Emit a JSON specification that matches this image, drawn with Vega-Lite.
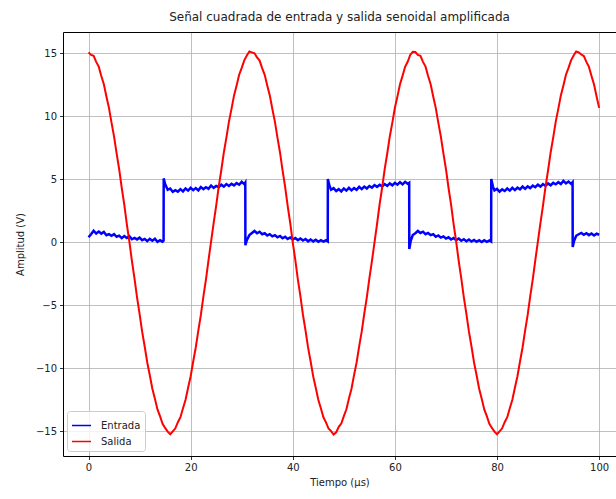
{
"$schema": "https://vega.github.io/schema/vega-lite/v6.json",
"width": 553,
"height": 424,
"autosize": {"type": "none"},
"padding": {"left": 63, "top": 32, "right": 0, "bottom": 43},
"background": "white",
"config": {"view": {"stroke": null}, "font": "DejaVu Sans"},
"title": {"text": "Señal cuadrada de entrada y salida senoidal amplificada", "font": "DejaVu Sans", "fontSize": 12, "fontWeight": "normal", "color": "#222222", "anchor": "middle", "offset": 8},
"data": {"values": [
{"senal":"Entrada","t":0,"v":0.38},{"senal":"Entrada","t":0.5,"v":0.62},{"senal":"Entrada","t":1,"v":0.9},{"senal":"Entrada","t":1.5,"v":0.68},{"senal":"Entrada","t":2,"v":0.83},{"senal":"Entrada","t":2.5,"v":0.67},{"senal":"Entrada","t":3,"v":0.8},{"senal":"Entrada","t":3.5,"v":0.54},{"senal":"Entrada","t":4,"v":0.63},{"senal":"Entrada","t":4.5,"v":0.5},{"senal":"Entrada","t":5,"v":0.63},{"senal":"Entrada","t":5.5,"v":0.42},{"senal":"Entrada","t":6,"v":0.51},{"senal":"Entrada","t":6.5,"v":0.31},{"senal":"Entrada","t":7,"v":0.48},{"senal":"Entrada","t":7.5,"v":0.32},{"senal":"Entrada","t":8,"v":0.47},{"senal":"Entrada","t":8.5,"v":0.22},{"senal":"Entrada","t":9,"v":0.33},{"senal":"Entrada","t":9.5,"v":0.21},{"senal":"Entrada","t":10,"v":0.35},{"senal":"Entrada","t":10.5,"v":0.15},{"senal":"Entrada","t":11,"v":0.25},{"senal":"Entrada","t":11.5,"v":0.07},{"senal":"Entrada","t":12,"v":0.25},{"senal":"Entrada","t":12.5,"v":0.1},{"senal":"Entrada","t":13,"v":0.26},{"senal":"Entrada","t":13.5,"v":0.02},{"senal":"Entrada","t":14,"v":0.14},{"senal":"Entrada","t":14.5,"v":0.03},{"senal":"Entrada","t":14.7,"v":0.12},
{"senal":"Entrada","t":14.72,"v":5.05},{"senal":"Entrada","t":15,"v":4.6},{"senal":"Entrada","t":15.5,"v":4.15},{"senal":"Entrada","t":16,"v":4.25},{"senal":"Entrada","t":16.5,"v":3.98},{"senal":"Entrada","t":17,"v":4.12},{"senal":"Entrada","t":17.5,"v":4.0},{"senal":"Entrada","t":18,"v":4.2},{"senal":"Entrada","t":18.5,"v":4.02},{"senal":"Entrada","t":19,"v":4.25},{"senal":"Entrada","t":19.5,"v":4.08},{"senal":"Entrada","t":20,"v":4.3},{"senal":"Entrada","t":20.5,"v":4.12},{"senal":"Entrada","t":21,"v":4.28},{"senal":"Entrada","t":21.5,"v":4.1},{"senal":"Entrada","t":22,"v":4.36},{"senal":"Entrada","t":22.5,"v":4.2},{"senal":"Entrada","t":23,"v":4.35},{"senal":"Entrada","t":23.5,"v":4.22},{"senal":"Entrada","t":24,"v":4.48},{"senal":"Entrada","t":24.5,"v":4.3},{"senal":"Entrada","t":25,"v":4.45},{"senal":"Entrada","t":25.5,"v":4.35},{"senal":"Entrada","t":26,"v":4.55},{"senal":"Entrada","t":26.5,"v":4.4},{"senal":"Entrada","t":27,"v":4.6},{"senal":"Entrada","t":27.5,"v":4.45},{"senal":"Entrada","t":28,"v":4.62},{"senal":"Entrada","t":28.5,"v":4.5},{"senal":"Entrada","t":29,"v":4.68},{"senal":"Entrada","t":29.5,"v":4.55},{"senal":"Entrada","t":30,"v":4.78},{"senal":"Entrada","t":30.5,"v":4.6},{"senal":"Entrada","t":30.7,"v":4.72},
{"senal":"Entrada","t":30.72,"v":-0.25},{"senal":"Entrada","t":31,"v":0.15},{"senal":"Entrada","t":31.5,"v":0.55},{"senal":"Entrada","t":32,"v":0.72},{"senal":"Entrada","t":32.5,"v":0.88},{"senal":"Entrada","t":33,"v":0.7},{"senal":"Entrada","t":33.5,"v":0.82},{"senal":"Entrada","t":34,"v":0.62},{"senal":"Entrada","t":34.5,"v":0.7},{"senal":"Entrada","t":35,"v":0.52},{"senal":"Entrada","t":35.5,"v":0.62},{"senal":"Entrada","t":36,"v":0.45},{"senal":"Entrada","t":36.5,"v":0.55},{"senal":"Entrada","t":37,"v":0.38},{"senal":"Entrada","t":37.5,"v":0.48},{"senal":"Entrada","t":38,"v":0.3},{"senal":"Entrada","t":38.5,"v":0.42},{"senal":"Entrada","t":39,"v":0.25},{"senal":"Entrada","t":39.5,"v":0.36},{"senal":"Entrada","t":40,"v":0.2},{"senal":"Entrada","t":40.5,"v":0.32},{"senal":"Entrada","t":41,"v":0.15},{"senal":"Entrada","t":41.5,"v":0.28},{"senal":"Entrada","t":42,"v":0.12},{"senal":"Entrada","t":42.5,"v":0.24},{"senal":"Entrada","t":43,"v":0.06},{"senal":"Entrada","t":43.5,"v":0.2},{"senal":"Entrada","t":44,"v":0.05},{"senal":"Entrada","t":44.5,"v":0.18},{"senal":"Entrada","t":45,"v":0.02},{"senal":"Entrada","t":45.5,"v":0.15},{"senal":"Entrada","t":46,"v":0.03},{"senal":"Entrada","t":46.5,"v":0.14},{"senal":"Entrada","t":46.85,"v":0.05},
{"senal":"Entrada","t":46.87,"v":5.0},{"senal":"Entrada","t":47.2,"v":4.45},{"senal":"Entrada","t":47.5,"v":4.15},{"senal":"Entrada","t":48,"v":4.28},{"senal":"Entrada","t":48.5,"v":4.05},{"senal":"Entrada","t":49,"v":4.2},{"senal":"Entrada","t":49.5,"v":4.02},{"senal":"Entrada","t":50,"v":4.25},{"senal":"Entrada","t":50.5,"v":4.08},{"senal":"Entrada","t":51,"v":4.3},{"senal":"Entrada","t":51.5,"v":4.1},{"senal":"Entrada","t":52,"v":4.28},{"senal":"Entrada","t":52.5,"v":4.15},{"senal":"Entrada","t":53,"v":4.38},{"senal":"Entrada","t":53.5,"v":4.2},{"senal":"Entrada","t":54,"v":4.4},{"senal":"Entrada","t":54.5,"v":4.25},{"senal":"Entrada","t":55,"v":4.45},{"senal":"Entrada","t":55.5,"v":4.32},{"senal":"Entrada","t":56,"v":4.52},{"senal":"Entrada","t":56.5,"v":4.38},{"senal":"Entrada","t":57,"v":4.55},{"senal":"Entrada","t":57.5,"v":4.42},{"senal":"Entrada","t":58,"v":4.6},{"senal":"Entrada","t":58.5,"v":4.45},{"senal":"Entrada","t":59,"v":4.65},{"senal":"Entrada","t":59.5,"v":4.5},{"senal":"Entrada","t":60,"v":4.7},{"senal":"Entrada","t":60.5,"v":4.55},{"senal":"Entrada","t":61,"v":4.75},{"senal":"Entrada","t":61.5,"v":4.58},{"senal":"Entrada","t":62,"v":4.78},{"senal":"Entrada","t":62.5,"v":4.62},{"senal":"Entrada","t":62.8,"v":4.7},
{"senal":"Entrada","t":62.82,"v":-0.55},{"senal":"Entrada","t":63.1,"v":0.1},{"senal":"Entrada","t":63.5,"v":0.55},{"senal":"Entrada","t":64,"v":0.7},{"senal":"Entrada","t":64.5,"v":0.88},{"senal":"Entrada","t":65,"v":0.72},{"senal":"Entrada","t":65.5,"v":0.82},{"senal":"Entrada","t":66,"v":0.62},{"senal":"Entrada","t":66.5,"v":0.72},{"senal":"Entrada","t":67,"v":0.55},{"senal":"Entrada","t":67.5,"v":0.62},{"senal":"Entrada","t":68,"v":0.42},{"senal":"Entrada","t":68.5,"v":0.52},{"senal":"Entrada","t":69,"v":0.35},{"senal":"Entrada","t":69.5,"v":0.45},{"senal":"Entrada","t":70,"v":0.28},{"senal":"Entrada","t":70.5,"v":0.38},{"senal":"Entrada","t":71,"v":0.2},{"senal":"Entrada","t":71.5,"v":0.32},{"senal":"Entrada","t":72,"v":0.15},{"senal":"Entrada","t":72.5,"v":0.28},{"senal":"Entrada","t":73,"v":0.1},{"senal":"Entrada","t":73.5,"v":0.22},{"senal":"Entrada","t":74,"v":0.06},{"senal":"Entrada","t":74.5,"v":0.2},{"senal":"Entrada","t":75,"v":0.04},{"senal":"Entrada","t":75.5,"v":0.17},{"senal":"Entrada","t":76,"v":0.02},{"senal":"Entrada","t":76.5,"v":0.15},{"senal":"Entrada","t":77,"v":0.0},{"senal":"Entrada","t":77.5,"v":0.14},{"senal":"Entrada","t":78,"v":0.02},{"senal":"Entrada","t":78.5,"v":0.12},{"senal":"Entrada","t":78.85,"v":0.04},
{"senal":"Entrada","t":78.87,"v":5.0},{"senal":"Entrada","t":79.2,"v":4.4},{"senal":"Entrada","t":79.5,"v":4.1},{"senal":"Entrada","t":80,"v":4.22},{"senal":"Entrada","t":80.5,"v":4.0},{"senal":"Entrada","t":81,"v":4.18},{"senal":"Entrada","t":81.5,"v":4.05},{"senal":"Entrada","t":82,"v":4.25},{"senal":"Entrada","t":82.5,"v":4.08},{"senal":"Entrada","t":83,"v":4.3},{"senal":"Entrada","t":83.5,"v":4.12},{"senal":"Entrada","t":84,"v":4.32},{"senal":"Entrada","t":84.5,"v":4.18},{"senal":"Entrada","t":85,"v":4.4},{"senal":"Entrada","t":85.5,"v":4.22},{"senal":"Entrada","t":86,"v":4.42},{"senal":"Entrada","t":86.5,"v":4.28},{"senal":"Entrada","t":87,"v":4.48},{"senal":"Entrada","t":87.5,"v":4.35},{"senal":"Entrada","t":88,"v":4.55},{"senal":"Entrada","t":88.5,"v":4.4},{"senal":"Entrada","t":89,"v":4.6},{"senal":"Entrada","t":89.5,"v":4.45},{"senal":"Entrada","t":90,"v":4.65},{"senal":"Entrada","t":90.5,"v":4.5},{"senal":"Entrada","t":91,"v":4.7},{"senal":"Entrada","t":91.5,"v":4.58},{"senal":"Entrada","t":92,"v":4.75},{"senal":"Entrada","t":92.5,"v":4.6},{"senal":"Entrada","t":93,"v":4.85},{"senal":"Entrada","t":93.5,"v":4.65},{"senal":"Entrada","t":94,"v":4.8},{"senal":"Entrada","t":94.5,"v":4.62},{"senal":"Entrada","t":94.8,"v":4.75},
{"senal":"Entrada","t":94.82,"v":-0.4},{"senal":"Entrada","t":95.1,"v":0.1},{"senal":"Entrada","t":95.5,"v":0.5},{"senal":"Entrada","t":96,"v":0.62},{"senal":"Entrada","t":96.5,"v":0.72},{"senal":"Entrada","t":97,"v":0.58},{"senal":"Entrada","t":97.5,"v":0.7},{"senal":"Entrada","t":98,"v":0.55},{"senal":"Entrada","t":98.5,"v":0.68},{"senal":"Entrada","t":99,"v":0.52},{"senal":"Entrada","t":99.5,"v":0.66},{"senal":"Entrada","t":100,"v":0.58},
{"senal":"Salida","t":0,"v":15.05},{"senal":"Salida","t":0.5,"v":14.85},{"senal":"Salida","t":1,"v":14.78},{"senal":"Salida","t":1.5,"v":14.3},{"senal":"Salida","t":2,"v":13.92},{"senal":"Salida","t":2.5,"v":13.18},{"senal":"Salida","t":3,"v":12.52},{"senal":"Salida","t":3.5,"v":11.55},{"senal":"Salida","t":4,"v":10.65},{"senal":"Salida","t":4.5,"v":9.48},{"senal":"Salida","t":5,"v":8.37},{"senal":"Salida","t":5.5,"v":7.03},{"senal":"Salida","t":6,"v":5.78},{"senal":"Salida","t":6.5,"v":4.31},{"senal":"Salida","t":7,"v":2.97},{"senal":"Salida","t":7.5,"v":1.43},{"senal":"Salida","t":8,"v":0.04},{"senal":"Salida","t":8.5,"v":-1.51},{"senal":"Salida","t":9,"v":-2.89},{"senal":"Salida","t":9.5,"v":-4.39},{"senal":"Salida","t":10,"v":-5.7},{"senal":"Salida","t":10.5,"v":-7.11},{"senal":"Salida","t":11,"v":-8.29},{"senal":"Salida","t":11.5,"v":-9.56},{"senal":"Salida","t":12,"v":-10.57},{"senal":"Salida","t":12.5,"v":-11.64},{"senal":"Salida","t":13,"v":-12.43},{"senal":"Salida","t":13.5,"v":-13.28},{"senal":"Salida","t":14,"v":-13.82},{"senal":"Salida","t":14.5,"v":-14.42},{"senal":"Salida","t":15,"v":-14.75},{"senal":"Salida","t":15.5,"v":-15.05},{"senal":"Salida","t":16,"v":-15.25},{"senal":"Salida","t":16.5,"v":-15.02},{"senal":"Salida","t":17,"v":-14.78},{"senal":"Salida","t":17.5,"v":-14.3},{"senal":"Salida","t":18,"v":-13.9},{"senal":"Salida","t":18.5,"v":-13.19},{"senal":"Salida","t":19,"v":-12.51},{"senal":"Salida","t":19.5,"v":-11.56},{"senal":"Salida","t":20,"v":-10.65},{"senal":"Salida","t":20.5,"v":-9.48},{"senal":"Salida","t":21,"v":-8.37},{"senal":"Salida","t":21.5,"v":-7.03},{"senal":"Salida","t":22,"v":-5.78},{"senal":"Salida","t":22.5,"v":-4.31},{"senal":"Salida","t":23,"v":-2.97},{"senal":"Salida","t":23.5,"v":-1.43},{"senal":"Salida","t":24,"v":0.04},{"senal":"Salida","t":24.5,"v":1.51},{"senal":"Salida","t":25,"v":2.89},{"senal":"Salida","t":25.5,"v":4.39},{"senal":"Salida","t":26,"v":5.7},{"senal":"Salida","t":26.5,"v":7.11},{"senal":"Salida","t":27,"v":8.29},{"senal":"Salida","t":27.5,"v":9.56},{"senal":"Salida","t":28,"v":10.57},{"senal":"Salida","t":28.5,"v":11.64},{"senal":"Salida","t":29,"v":12.43},{"senal":"Salida","t":29.5,"v":13.28},{"senal":"Salida","t":30,"v":13.82},{"senal":"Salida","t":30.5,"v":14.42},{"senal":"Salida","t":31,"v":14.8},{"senal":"Salida","t":31.5,"v":15.12},
{"senal":"Salida","t":32,"v":15.05},{"senal":"Salida","t":32.5,"v":14.98},{"senal":"Salida","t":33,"v":14.66},{"senal":"Salida","t":33.5,"v":14.4},{"senal":"Salida","t":34,"v":13.81},{"senal":"Salida","t":34.5,"v":13.27},{"senal":"Salida","t":35,"v":12.42},{"senal":"Salida","t":35.5,"v":11.64},{"senal":"Salida","t":36,"v":10.56},{"senal":"Salida","t":36.5,"v":9.56},{"senal":"Salida","t":37,"v":8.28},{"senal":"Salida","t":37.5,"v":7.11},{"senal":"Salida","t":38,"v":5.69},{"senal":"Salida","t":38.5,"v":4.39},{"senal":"Salida","t":39,"v":2.88},{"senal":"Salida","t":39.5,"v":1.51},{"senal":"Salida","t":40,"v":-0.05},{"senal":"Salida","t":40.5,"v":-1.43},{"senal":"Salida","t":41,"v":-2.98},{"senal":"Salida","t":41.5,"v":-4.31},{"senal":"Salida","t":42,"v":-5.79},{"senal":"Salida","t":42.5,"v":-7.03},{"senal":"Salida","t":43,"v":-8.38},{"senal":"Salida","t":43.5,"v":-9.48},{"senal":"Salida","t":44,"v":-10.66},{"senal":"Salida","t":44.5,"v":-11.56},{"senal":"Salida","t":45,"v":-12.52},{"senal":"Salida","t":45.5,"v":-13.19},{"senal":"Salida","t":46,"v":-13.91},{"senal":"Salida","t":46.5,"v":-14.31},{"senal":"Salida","t":47,"v":-14.8},{"senal":"Salida","t":47.5,"v":-15.0},{"senal":"Salida","t":48,"v":-15.28},{"senal":"Salida","t":48.5,"v":-15.1},{"senal":"Salida","t":49,"v":-14.66},{"senal":"Salida","t":49.5,"v":-14.4},{"senal":"Salida","t":50,"v":-13.81},{"senal":"Salida","t":50.5,"v":-13.27},{"senal":"Salida","t":51,"v":-12.42},{"senal":"Salida","t":51.5,"v":-11.64},{"senal":"Salida","t":52,"v":-10.56},{"senal":"Salida","t":52.5,"v":-9.56},{"senal":"Salida","t":53,"v":-8.28},{"senal":"Salida","t":53.5,"v":-7.11},{"senal":"Salida","t":54,"v":-5.69},{"senal":"Salida","t":54.5,"v":-4.39},{"senal":"Salida","t":55,"v":-2.88},{"senal":"Salida","t":55.5,"v":-1.51},{"senal":"Salida","t":56,"v":-0.05},{"senal":"Salida","t":56.5,"v":1.43},{"senal":"Salida","t":57,"v":2.98},{"senal":"Salida","t":57.5,"v":4.31},{"senal":"Salida","t":58,"v":5.79},{"senal":"Salida","t":58.5,"v":7.03},{"senal":"Salida","t":59,"v":8.38},{"senal":"Salida","t":59.5,"v":9.48},{"senal":"Salida","t":60,"v":10.66},{"senal":"Salida","t":60.5,"v":11.56},{"senal":"Salida","t":61,"v":12.52},{"senal":"Salida","t":61.5,"v":13.19},{"senal":"Salida","t":62,"v":13.91},{"senal":"Salida","t":62.5,"v":14.31},{"senal":"Salida","t":63,"v":14.85},{"senal":"Salida","t":63.5,"v":15.1},
{"senal":"Salida","t":64,"v":15.08},{"senal":"Salida","t":64.5,"v":14.85},{"senal":"Salida","t":65,"v":14.78},{"senal":"Salida","t":65.5,"v":14.3},{"senal":"Salida","t":66,"v":13.92},{"senal":"Salida","t":66.5,"v":13.18},{"senal":"Salida","t":67,"v":12.52},{"senal":"Salida","t":67.5,"v":11.55},{"senal":"Salida","t":68,"v":10.65},{"senal":"Salida","t":68.5,"v":9.48},{"senal":"Salida","t":69,"v":8.37},{"senal":"Salida","t":69.5,"v":7.03},{"senal":"Salida","t":70,"v":5.78},{"senal":"Salida","t":70.5,"v":4.31},{"senal":"Salida","t":71,"v":2.97},{"senal":"Salida","t":71.5,"v":1.43},{"senal":"Salida","t":72,"v":0.04},{"senal":"Salida","t":72.5,"v":-1.51},{"senal":"Salida","t":73,"v":-2.89},{"senal":"Salida","t":73.5,"v":-4.39},{"senal":"Salida","t":74,"v":-5.7},{"senal":"Salida","t":74.5,"v":-7.11},{"senal":"Salida","t":75,"v":-8.29},{"senal":"Salida","t":75.5,"v":-9.56},{"senal":"Salida","t":76,"v":-10.57},{"senal":"Salida","t":76.5,"v":-11.64},{"senal":"Salida","t":77,"v":-12.43},{"senal":"Salida","t":77.5,"v":-13.28},{"senal":"Salida","t":78,"v":-13.82},{"senal":"Salida","t":78.5,"v":-14.42},{"senal":"Salida","t":79,"v":-14.75},{"senal":"Salida","t":79.5,"v":-15.05},{"senal":"Salida","t":80,"v":-15.25},{"senal":"Salida","t":80.5,"v":-15.02},{"senal":"Salida","t":81,"v":-14.78},{"senal":"Salida","t":81.5,"v":-14.3},{"senal":"Salida","t":82,"v":-13.9},{"senal":"Salida","t":82.5,"v":-13.19},{"senal":"Salida","t":83,"v":-12.51},{"senal":"Salida","t":83.5,"v":-11.56},{"senal":"Salida","t":84,"v":-10.65},{"senal":"Salida","t":84.5,"v":-9.48},{"senal":"Salida","t":85,"v":-8.37},{"senal":"Salida","t":85.5,"v":-7.03},{"senal":"Salida","t":86,"v":-5.78},{"senal":"Salida","t":86.5,"v":-4.31},{"senal":"Salida","t":87,"v":-2.97},{"senal":"Salida","t":87.5,"v":-1.43},{"senal":"Salida","t":88,"v":0.04},{"senal":"Salida","t":88.5,"v":1.51},{"senal":"Salida","t":89,"v":2.89},{"senal":"Salida","t":89.5,"v":4.39},{"senal":"Salida","t":90,"v":5.7},{"senal":"Salida","t":90.5,"v":7.11},{"senal":"Salida","t":91,"v":8.29},{"senal":"Salida","t":91.5,"v":9.56},{"senal":"Salida","t":92,"v":10.57},{"senal":"Salida","t":92.5,"v":11.64},{"senal":"Salida","t":93,"v":12.43},{"senal":"Salida","t":93.5,"v":13.28},{"senal":"Salida","t":94,"v":13.82},{"senal":"Salida","t":94.5,"v":14.42},{"senal":"Salida","t":95,"v":14.8},{"senal":"Salida","t":95.5,"v":15.12},
{"senal":"Salida","t":96,"v":15.05},{"senal":"Salida","t":96.5,"v":14.88},{"senal":"Salida","t":97,"v":14.76},{"senal":"Salida","t":97.5,"v":14.3},{"senal":"Salida","t":98,"v":13.9},{"senal":"Salida","t":98.5,"v":13.18},{"senal":"Salida","t":99,"v":12.5},{"senal":"Salida","t":99.5,"v":11.55},{"senal":"Salida","t":100,"v":10.65}
]},
"encoding": {
  "y": {"field": "v", "type": "quantitative",
    "scale": {"domain": [-16.98, 16.67], "nice": false, "zero": false},
    "axis": {"values": [-15, -10, -5, 0, 5, 10, 15], "title": "Amplitud (V)", "labelExpr": "replace(datum.label, '-', '−')",
      "grid": true, "gridColor": "#b0b0b0", "gridWidth": 0.8, "domainColor": "#000000", "domainWidth": 1,
      "tickColor": "#000000", "tickSize": 3.5, "tickWidth": 0.8, "labelFontSize": 10, "labelColor": "#222222", "labelPadding": 3,
      "labelFont": "DejaVu Sans", "titleFont": "DejaVu Sans", "titleFontSize": 10, "titleFontWeight": "normal", "titleColor": "#222222", "titlePadding": 10}},
  "color": {"field": "senal", "type": "nominal",
    "scale": {"domain": ["Entrada", "Salida"], "range": ["#0000ff", "#ff0000"]},
    "legend": {"title": null, "orient": "none", "legendX": 4, "legendY": 379, "symbolType": "stroke", "symbolSize": 360, "symbolStrokeWidth": 1.5,
      "labelFontSize": 10, "labelFont": "DejaVu Sans", "labelColor": "#222222", "labelOffset": 9, "rowPadding": 0,
      "fillColor": "rgba(255,255,255,0.8)", "strokeColor": "#cccccc", "cornerRadius": 3, "padding": 4}}
},
"layer": [
  {"transform": [{"filter": "datum.senal == 'Entrada'"}],
   "mark": {"type": "line", "strokeWidth": 2.5, "clip": true},
   "encoding": {"x": {"field": "t", "type": "quantitative",
     "scale": {"domain": [-5, 103.3], "nice": false, "zero": false},
     "axis": {"values": [0, 20, 40, 60, 80, 100], "title": "Tiempo (μs)", "grid": true, "gridColor": "#b0b0b0", "gridWidth": 0.8,
       "domainColor": "#000000", "domainWidth": 1, "tickColor": "#000000", "tickSize": 3.5, "tickWidth": 0.8,
       "labelFontSize": 10, "labelColor": "#222222", "labelPadding": 3, "labelFont": "DejaVu Sans",
       "titleFont": "DejaVu Sans", "titleFontSize": 10, "titleFontWeight": "normal", "titleColor": "#222222", "titlePadding": 5}}}},
  {"transform": [{"filter": "datum.senal == 'Salida'"}],
   "mark": {"type": "line", "strokeWidth": 2, "clip": true},
   "encoding": {"x": {"field": "t", "type": "quantitative",
     "axis": {"orient": "top", "title": null, "labels": false, "ticks": false, "grid": false, "domainColor": "#000000", "domainWidth": 1}}}}
],
"resolve": {"axis": {"x": "independent"}}
}
